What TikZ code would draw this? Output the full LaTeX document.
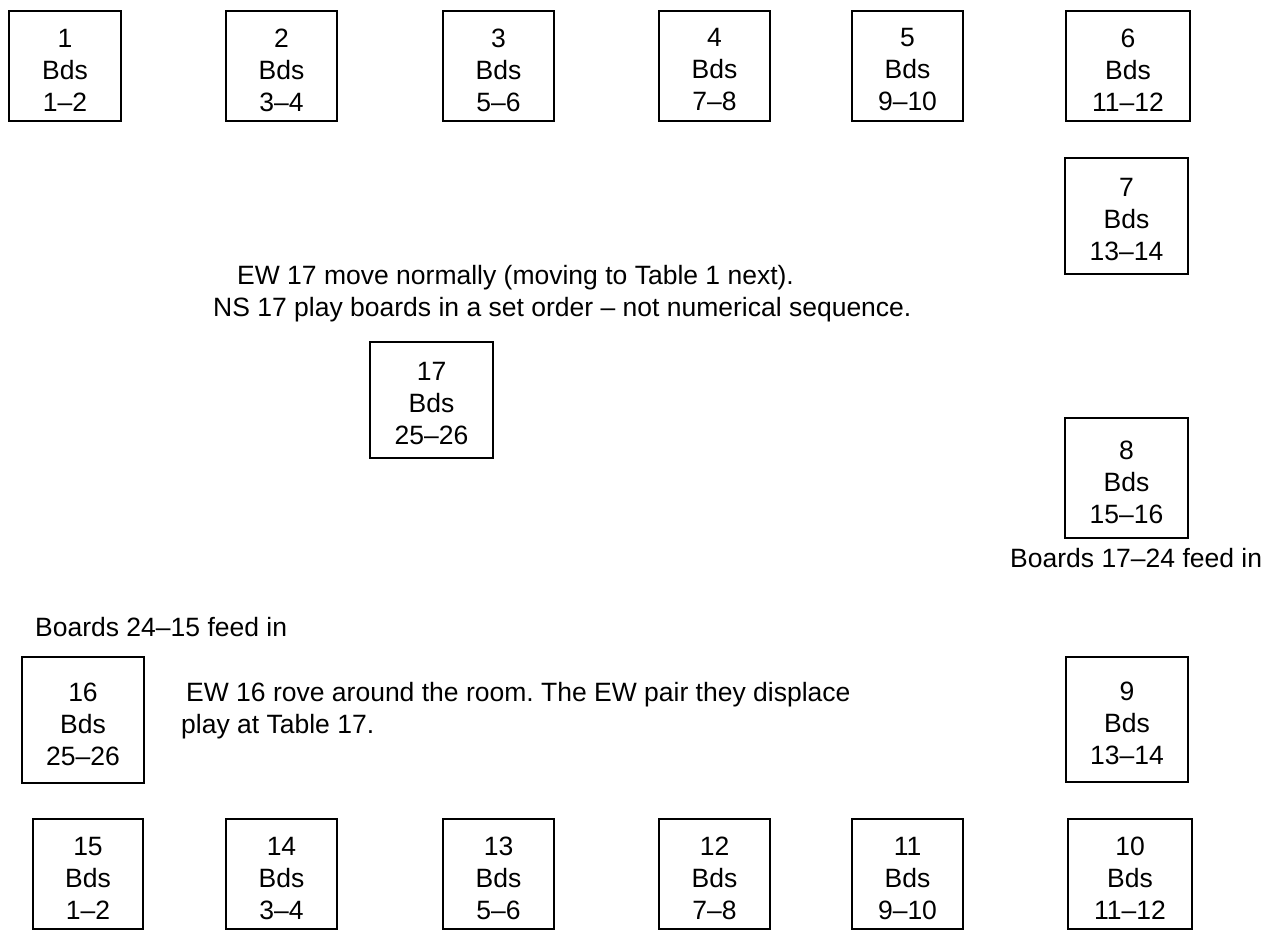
\documentclass[tikz,border=0pt]{standalone}
\usepackage{fontspec}
\setmainfont{Liberation Sans}
\newcommand\fsz{\fontsize{26.5}{32}\selectfont}
\frenchspacing
\begin{document}
\begin{tikzpicture}[x=1pt,y=-1pt,
  tbox/.style 2 args={draw, line width=1.2pt, minimum width=#1pt, minimum height=#2pt,
    inner sep=0pt},
  ttext/.style={inner sep=0pt, align=center, font=\fsz},
  note/.style={anchor=base west, inner sep=0pt, font=\fsz}]
\useasboundingbox (0,0) rectangle (1265,935);
\newcommand\tbl[6]{%
  \node[tbox={#4}{#5}] (#1) at (#2,#3) {};
  \node[ttext] (#1t) at ([yshift=-4pt]#1.center) {#6};}
% top row
\tbl{n1}{65}{66}{112}{110}{1\\Bds\\1\textendash 2}
\tbl{n2}{281.5}{66}{111}{110}{2\\Bds\\3\textendash 4}
\tbl{n3}{498.5}{66}{111}{110}{3\\Bds\\5\textendash 6}
\tbl{n4}{714.5}{66}{111}{110}{4\\Bds\\7\textendash 8}
\tbl{n5}{907.5}{66}{111}{110}{5\\Bds\\9\textendash 10}
\tbl{n6}{1128}{66}{124}{110}{6\\Bds\\11\textendash 12}
% right column
\tbl{n7}{1126.5}{216}{123}{116}{7\\Bds\\13\textendash 14}
\tbl{n8}{1126.5}{478}{123}{120}{8\\Bds\\15\textendash 16}
\tbl{n9}{1127}{719.5}{122}{125}{9\\Bds\\13\textendash 14}
% middle
\tbl{n17}{431.5}{400}{123}{116}{17\\Bds\\25\textendash 26}
\tbl{n16}{83}{720}{122}{126}{16\\Bds\\25\textendash 26}
% bottom row
\tbl{n15}{88}{874}{110}{110}{15\\Bds\\1\textendash 2}
\tbl{n14}{281.5}{874}{111}{110}{14\\Bds\\3\textendash 4}
\tbl{n13}{498.5}{874}{111}{110}{13\\Bds\\5\textendash 6}
\tbl{n12}{714.5}{874}{111}{110}{12\\Bds\\7\textendash 8}
\tbl{n11}{907.5}{874}{111}{110}{11\\Bds\\9\textendash 10}
\tbl{n10}{1130}{874}{124}{110}{10\\Bds\\11\textendash 12}
% notes
\node[note] (t1) at (237,284) {EW 17 move normally (moving to Table 1 next).};
\node[note] (t2) at (213,316) {NS 17 play boards in a set order \textendash{} not numerical sequence.};
\node[note] (t3) at (1010,567) {Boards 17\textendash 24 feed in};
\node[note] (t4) at (35,636) {Boards 24\textendash 15 feed in};
\node[note] (t5) at (186,701) {EW 16 rove around the room. The EW pair they displace};
\node[note] (t6) at (181,733) {play at Table 17.};
\end{tikzpicture}
\end{document}
